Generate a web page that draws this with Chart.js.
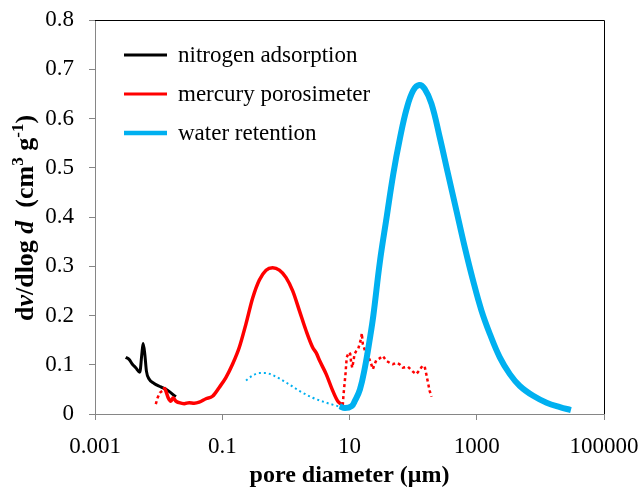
<!DOCTYPE html>
<html>
<head>
<meta charset="utf-8">
<script src="https://cdn.jsdelivr.net/npm/chart.js@4.4.1/dist/chart.umd.min.js"></script>
<style>
  body { margin: 0; background: #fff; }
  canvas { display: block; }
</style>
</head>
<body>
<canvas id="poreChart" width="643" height="490"></canvas>
<script>
// pore diameter (um) and dv/dlog d (cm3 g-1)
const nitrogenD = [0.00304, 0.00343, 0.00387, 0.00437, 0.00506, 0.00544, 0.0057, 0.00607, 0.00643, 0.00708, 0.00849, 0.01083, 0.01377, 0.01866];
const nitrogenV = [0.115, 0.111, 0.101, 0.094, 0.085, 0.121, 0.143, 0.121, 0.087, 0.071, 0.062, 0.055, 0.048, 0.035];

// mercury: dotted bits at both ends, solid middle
const mercuryLowD = [0.00903, 0.00958, 0.01045, 0.01148, 0.01222];
const mercuryLowV = [0.020, 0.032, 0.043, 0.047, 0.054];
const mercuryD = [0.01222, 0.01298, 0.01413, 0.01557, 0.0169, 0.01866, 0.02104, 0.02522, 0.0302, 0.0362, 0.0434, 0.0554, 0.0703, 0.0897, 0.114, 0.145, 0.185, 0.236, 0.300, 0.383, 0.488, 0.619, 0.790, 1.007, 1.28, 1.63, 2.08, 2.64, 3.0, 3.4, 4.3, 5.46, 6.55, 7.84];
const mercuryV = [0.054, 0.047, 0.033, 0.026, 0.033, 0.026, 0.023, 0.021, 0.023, 0.022, 0.024, 0.031, 0.036, 0.054, 0.074, 0.101, 0.135, 0.183, 0.235, 0.272, 0.292, 0.297, 0.292, 0.277, 0.250, 0.210, 0.169, 0.135, 0.124, 0.108, 0.081, 0.047, 0.026, 0.018];
const mercuryHighD = [7.84, 8.05, 8.34, 8.65, 8.87, 9.06, 9.75, 10.26, 10.64, 11.03, 11.57, 12.0, 12.8, 13.7, 14.4, 15.3, 15.6, 16.2, 17.2, 18.3, 20.6, 22.0, 23.3, 24.8, 26.3, 29.7, 33.4, 37.8, 42.7, 48.1, 54.4, 61.3, 69.0, 82.8, 99.3, 112, 126, 140, 152, 161, 171, 182, 194];
const mercuryHighV = [0.018, 0.039, 0.060, 0.081, 0.101, 0.115, 0.125, 0.122, 0.104, 0.094, 0.108, 0.122, 0.128, 0.132, 0.142, 0.155, 0.164, 0.142, 0.132, 0.122, 0.111, 0.101, 0.091, 0.101, 0.109, 0.113, 0.118, 0.108, 0.104, 0.101, 0.104, 0.101, 0.094, 0.096, 0.086, 0.081, 0.089, 0.098, 0.096, 0.081, 0.064, 0.047, 0.035];

// water retention: thin dotted part below 10 um, thick curve after
const waterDotD = [0.236, 0.300, 0.383, 0.488, 0.619, 1.007, 1.63, 2.64, 4.30, 6.55, 8.34];
const waterDotV = [0.068, 0.078, 0.083, 0.083, 0.079, 0.064, 0.047, 0.033, 0.023, 0.016, 0.012];
const waterD = [7.0, 8.49, 10.8, 12.2, 14.6, 17.5, 21.0, 23.7, 30.1, 38.4, 48.7, 62.1, 79.2, 100.5, 125, 152, 194, 261, 353, 479, 647, 875, 1186, 1603, 2303, 3311, 4755, 7709, 12530, 20290, 30200];
const waterV = [0.016, 0.012, 0.016, 0.027, 0.050, 0.095, 0.155, 0.200, 0.310, 0.400, 0.487, 0.560, 0.620, 0.657, 0.668, 0.660, 0.630, 0.563, 0.488, 0.413, 0.339, 0.271, 0.210, 0.163, 0.115, 0.081, 0.057, 0.037, 0.023, 0.014, 0.008];

const seriesNames = ["nitrogen adsorption", "mercury porosimeter", "water retention"];
const xTickValues = [0.001, 0.1, 10, 1000, 100000];
const xTickLabels = ["0.001", "0.1", "10", "1000", "100000"];
const yTickLabels = ["0", "0.1", "0.2", "0.3", "0.4", "0.5", "0.6", "0.7", "0.8"];

const SERIF = "'Liberation Serif', 'Times New Roman', serif";
const BLACK = "#000000", RED = "#ff0000", CYAN = "#00b0f0", AXIS = "#868686";

function pts(xs, ys) {
  return xs.map((x, i) => ({ x: x, y: ys[i] }));
}

// legend, box lines and the two axis titles
const decorations = {
  id: "decorations",
  afterDraw(chart) {
    const c = chart.ctx;
    const a = chart.chartArea;
    c.save();

    // top and right edge of the plot box
    c.strokeStyle = "#000";
    c.lineWidth = 1;
    c.beginPath();
    c.moveTo(a.left, a.top + 0.5);
    c.lineTo(a.right + 0.5, a.top + 0.5);
    c.lineTo(a.right + 0.5, a.bottom);
    c.stroke();

    // legend
    const colors = [BLACK, RED, CYAN];
    const widths = [3, 3, 4.5];
    const rows = [55, 94, 133];
    c.font = "23px " + SERIF;
    c.textBaseline = "middle";
    c.fillStyle = "#000";
    for (let i = 0; i < 3; i++) {
      c.strokeStyle = colors[i];
      c.lineWidth = widths[i];
      c.beginPath();
      c.moveTo(124, rows[i]);
      c.lineTo(167, rows[i]);
      c.stroke();
      c.fillText(seriesNames[i], 178, rows[i] + 1);
    }

    // x title
    c.font = "bold 24px " + SERIF;
    c.textAlign = "center";
    c.textBaseline = "alphabetic";
    c.fillText("pore diameter (\u03bcm)", (a.left + a.right) / 2, 482);

    // y title with italic letters and superscripts
    const parts = [
      ["d", "bold 26px", 0], ["v", "italic bold 26px", 0], ["/dlog ", "bold 26px", 0],
      ["d", "italic bold 26px", 0], ["  (cm", "bold 26px", 0], ["3", "bold 17px", -10],
      [" g", "bold 26px", 0], ["-1", "bold 17px", -10], [")", "bold 26px", 0]
    ];
    let total = 0;
    for (const p of parts) { c.font = p[1] + " " + SERIF; total += c.measureText(p[0]).width; }
    c.translate(33, 218);
    c.rotate(-Math.PI / 2);
    c.textAlign = "left";
    let x = -total / 2;
    for (const p of parts) {
      c.font = p[1] + " " + SERIF;
      c.fillText(p[0], x, p[2]);
      x += c.measureText(p[0]).width;
    }
    c.restore();
  }
};

new Chart(document.getElementById("poreChart"), {
  type: "line",
  data: {
    datasets: [
      { data: pts(waterD, waterV), borderColor: CYAN, borderWidth: 6, tension: 0.4 },
      { data: pts(waterDotD, waterDotV), borderColor: CYAN, borderWidth: 2, borderDash: [2, 3], cubicInterpolationMode: "monotone" },
      { data: pts(mercuryD, mercuryV), borderColor: RED, borderWidth: 3.5, cubicInterpolationMode: "monotone" },
      { data: pts(mercuryLowD, mercuryLowV), borderColor: RED, borderWidth: 2.5, borderDash: [3, 3] },
      { data: pts(mercuryHighD, mercuryHighV), borderColor: RED, borderWidth: 2.5, borderDash: [3, 3] },
      { data: pts(nitrogenD, nitrogenV), borderColor: BLACK, borderWidth: 3, cubicInterpolationMode: "monotone" }
    ]
  },
  options: {
    responsive: false,
    animation: false,
    devicePixelRatio: 1,
    layout: { padding: { top: 20, right: 39, left: 0, bottom: 0 } },
    elements: { point: { radius: 0 }, line: { fill: false } },
    plugins: { legend: { display: false }, tooltip: { enabled: false } },
    scales: {
      x: {
        type: "logarithmic",
        min: 0.001,
        max: 100000,
        afterBuildTicks: scale => { scale.ticks = xTickValues.map(v => ({ value: v })); },
        afterFit: scale => { scale.height = 76; scale.paddingLeft = 0; scale.paddingRight = 0; },
        ticks: {
          autoSkip: false, maxRotation: 0, padding: 13, color: "#000",
          font: { family: SERIF, size: 23 },
          callback: (v, i) => xTickLabels[i]
        },
        grid: { drawOnChartArea: false, tickLength: 6, color: AXIS },
        border: { color: AXIS, width: 1 }
      },
      y: {
        min: 0,
        max: 0.8,
        afterFit: scale => { scale.width = 95; scale.paddingTop = 0; scale.paddingBottom = 0; },
        ticks: {
          stepSize: 0.1, padding: 15, color: "#000",
          font: { family: SERIF, size: 23 },
          callback: (v, i) => yTickLabels[i]
        },
        grid: { drawOnChartArea: false, tickLength: 6, color: AXIS },
        border: { color: AXIS, width: 1 }
      }
    }
  },
  plugins: [decorations]
});
</script>
</body>
</html>
